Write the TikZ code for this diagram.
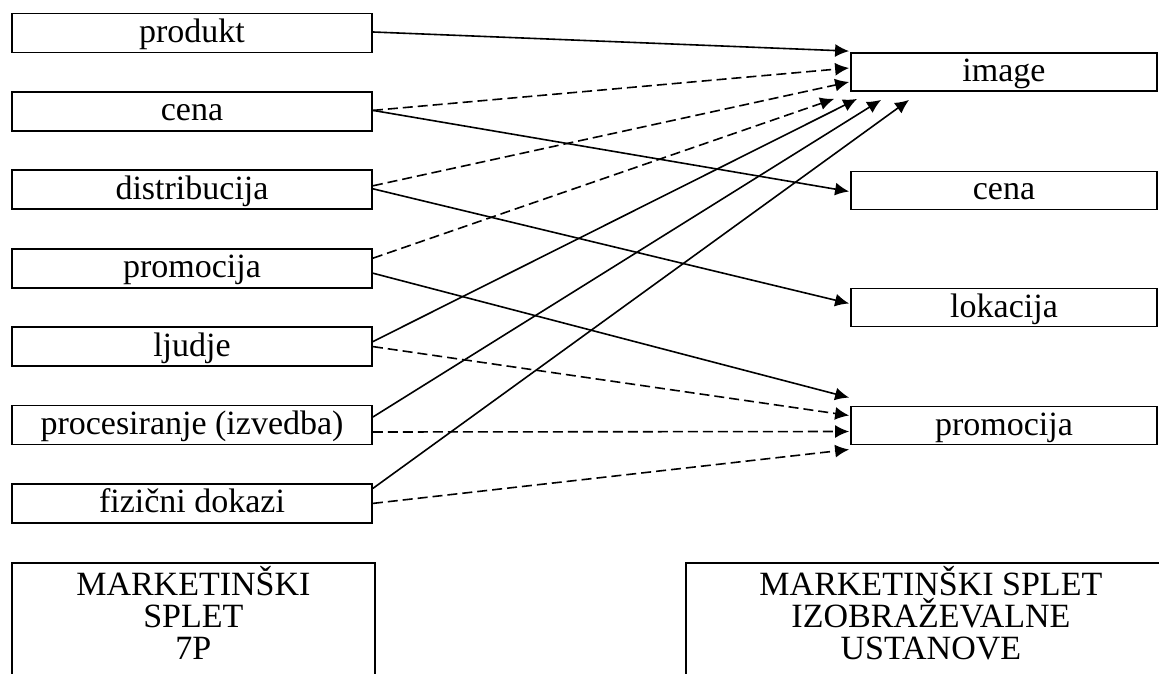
\documentclass[tikz,border=0pt]{standalone}
\usepackage{fontspec}
\setmainfont{Liberation Serif}
\usetikzlibrary{arrows.meta,calc}
\tikzset{
  item/.style    = {shape=rectangle, draw, line width=0.9pt, inner sep=0pt,
                    minimum width=180pt, minimum height=19.5pt,
                    font=\fontsize{17}{16}\selectfont,
                    text height=12.5pt, text depth=3pt},
  goal/.style    = {item, minimum width=153pt, minimum height=19pt},
  mix/.style     = {shape=rectangle, draw, line width=0.9pt,
                    anchor=north west, minimum height=80pt},
  mixtext/.style = {anchor=north, align=center, inner sep=2pt,
                    font=\fontsize{17}{16}\selectfont},
  link/.style    = {draw, line width=0.8pt, -{Latex[length=7pt,width=6.5pt]}},
  weak/.style    = {link, dash pattern=on 5pt off 2.5pt}
}

\begin{document}
\begin{tikzpicture}[x=0.5pt, y=-0.5pt]
  \clip (0,0) rectangle (1159,673);
  % left column: 7P
  \node [item] (produkt) at (192,33)    {produkt};
  \node [item] (cena)    at (192,111.4) {cena};
  \node [item] (distr)   at (192,189.8) {distribucija};
  \node [item] (promo)   at (192,268.2) {promocija};
  \node [item] (ljudje)  at (192,346.6) {ljudje};
  \node [item] (proces)  at (192,425)   {procesiranje (izvedba)};
  \node [item] (dokazi)  at (192,503.4) {fizični dokazi};
  % right column
  \node [goal] (image)    at (1004,72)    {image};
  \node [goal] (rcena)    at (1004,190.5) {cena};
  \node [goal] (lokacija) at (1004,307.5) {lokacija};
  \node [goal] (rpromo)   at (1004,425.5) {promocija};
  % captions
  \node [mix, minimum width=181.5pt] (mixl) at (11,562) {};
  \node [mixtext] (mixltext) at (mixl.north) {MARKETINŠKI\\SPLET\\7P};
  \node [mix, minimum width=245pt] (mixr) at (685,562) {};
  \node [mixtext] (mixrtext) at (mixr.north) {MARKETINŠKI SPLET\\IZOBRAŽEVALNE\\USTANOVE};

  % into image
  \draw [link] ($(produkt.east)+(0,-1)$) -- ($(image.north west)+(-1,-1)$);
  \draw [weak] ($(cena.east)+(0,-1)$)    -- ($(image.west)+(-1,-4)$);
  \draw [weak] ($(distr.east)+(0,-4)$)   -- ($(image.west)+(-1,10)$);
  \draw [weak] ($(promo.east)+(0,-10)$)  -- ($(image.south west)+(-16,7)$);
  \draw [link] ($(ljudje.east)+(0,-5)$)  -- ($(image.south west)+(7,7)$);
  \draw [link] ($(proces.east)+(0,-8)$)  -- ($(image.south west)+(31,8)$);
  \draw [link] ($(dokazi.east)+(0,-15)$) -- ($(image.south west)+(59,8)$);
  % into the other boxes
  \draw [link] ($(cena.east)+(0,-1)$)    -- ($(rcena.west)+(-1,1)$);
  \draw [link] ($(distr.east)+(0,-1)$)   -- ($(lokacija.west)+(-1,-4)$);
  \draw [link] ($(promo.east)+(0,5)$)    -- ($(rpromo.north west)+(-1,-8)$);
  \draw [weak] (ljudje.east)             -- ($(rpromo.west)+(-1,-10)$);
  \draw [weak] ($(proces.east)+(0,7)$)   -- ($(rpromo.west)+(-1,6)$);
  \draw [weak] (dokazi.east)             -- ($(rpromo.west)+(-1,24)$);
\end{tikzpicture}
\end{document}
